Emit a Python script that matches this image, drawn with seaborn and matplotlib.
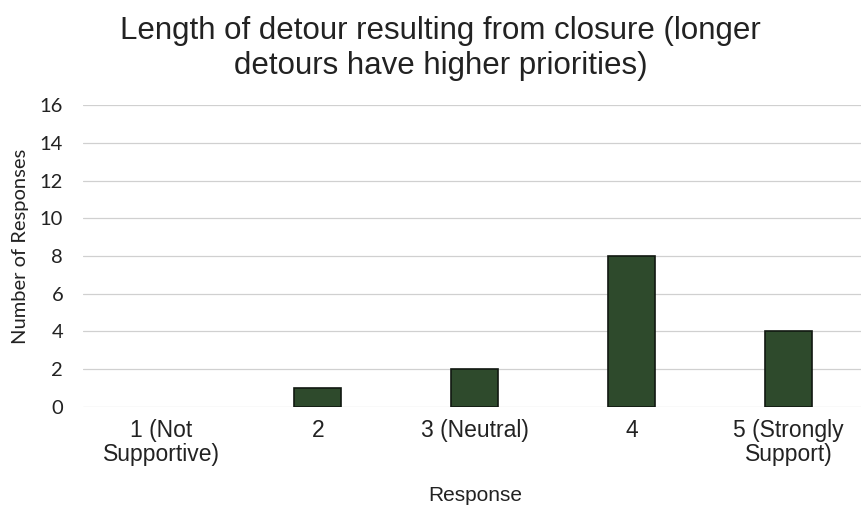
import matplotlib
matplotlib.use("Agg")
import matplotlib.pyplot as plt
import seaborn as sns
import pandas as pd

# chart data
responses = ["1 (Not\nSupportive)", "2", "3 (Neutral)", "4", "5 (Strongly\nSupport)"]
counts = [0, 1, 2, 8, 4]
y_ticks = [0, 2, 4, 6, 8, 10, 12, 14, 16]

df = pd.DataFrame({"Response": responses, "Count": counts})

sns.set_style("white")
plt.rcParams['font.family'] = ['Liberation Sans', 'DejaVu Sans']

fig = plt.figure(figsize=(8.61, 5.08), dpi=100)
ax = fig.add_axes([0.096, 0.199, 0.911, 0.594])

sns.barplot(data=df, x="Response", y="Count", color="#2e4a2c", width=0.3,
            edgecolor="#111811", linewidth=1.2, saturation=1, ax=ax, zorder=3)
# zero-height bars should not leave an outline
for p in ax.patches:
    if p.get_height() == 0:
        p.set_linewidth(0)

ax.set_ylim(0, 16)
ax.set_yticks(y_ticks)
ax.grid(axis="y", color="#d0d0d0", linewidth=0.9, zorder=0)
sns.despine(ax=ax, left=True, bottom=True)
ax.tick_params(axis="x", length=0, labelsize=16.5, pad=9)
ax.tick_params(axis="y", length=0, labelsize=14.5, pad=14)
for lbl in ax.get_yticklabels():
    lbl.set_family(["Lato", "DejaVu Sans"])
for lbl in ax.get_xticklabels():
    lbl.set_linespacing(1.05)
for lbl in ax.get_xticklabels() + ax.get_yticklabels():
    lbl.set_color("#222222")

ax.set_xlabel("Response", fontsize=15, color="#222222", labelpad=14)
ax.set_ylabel("Number of Responses", fontsize=14.5, color="#222222",
              family=["Lato", "DejaVu Sans"])
ax.yaxis.set_label_coords(-0.069, 0.533)
fig.suptitle("Length of detour resulting from closure (longer\ndetours have higher priorities)",
             fontsize=22.5, color="#222222", y=0.968, x=0.512, linespacing=1.2)

fig.savefig("out.png", dpi=100)
